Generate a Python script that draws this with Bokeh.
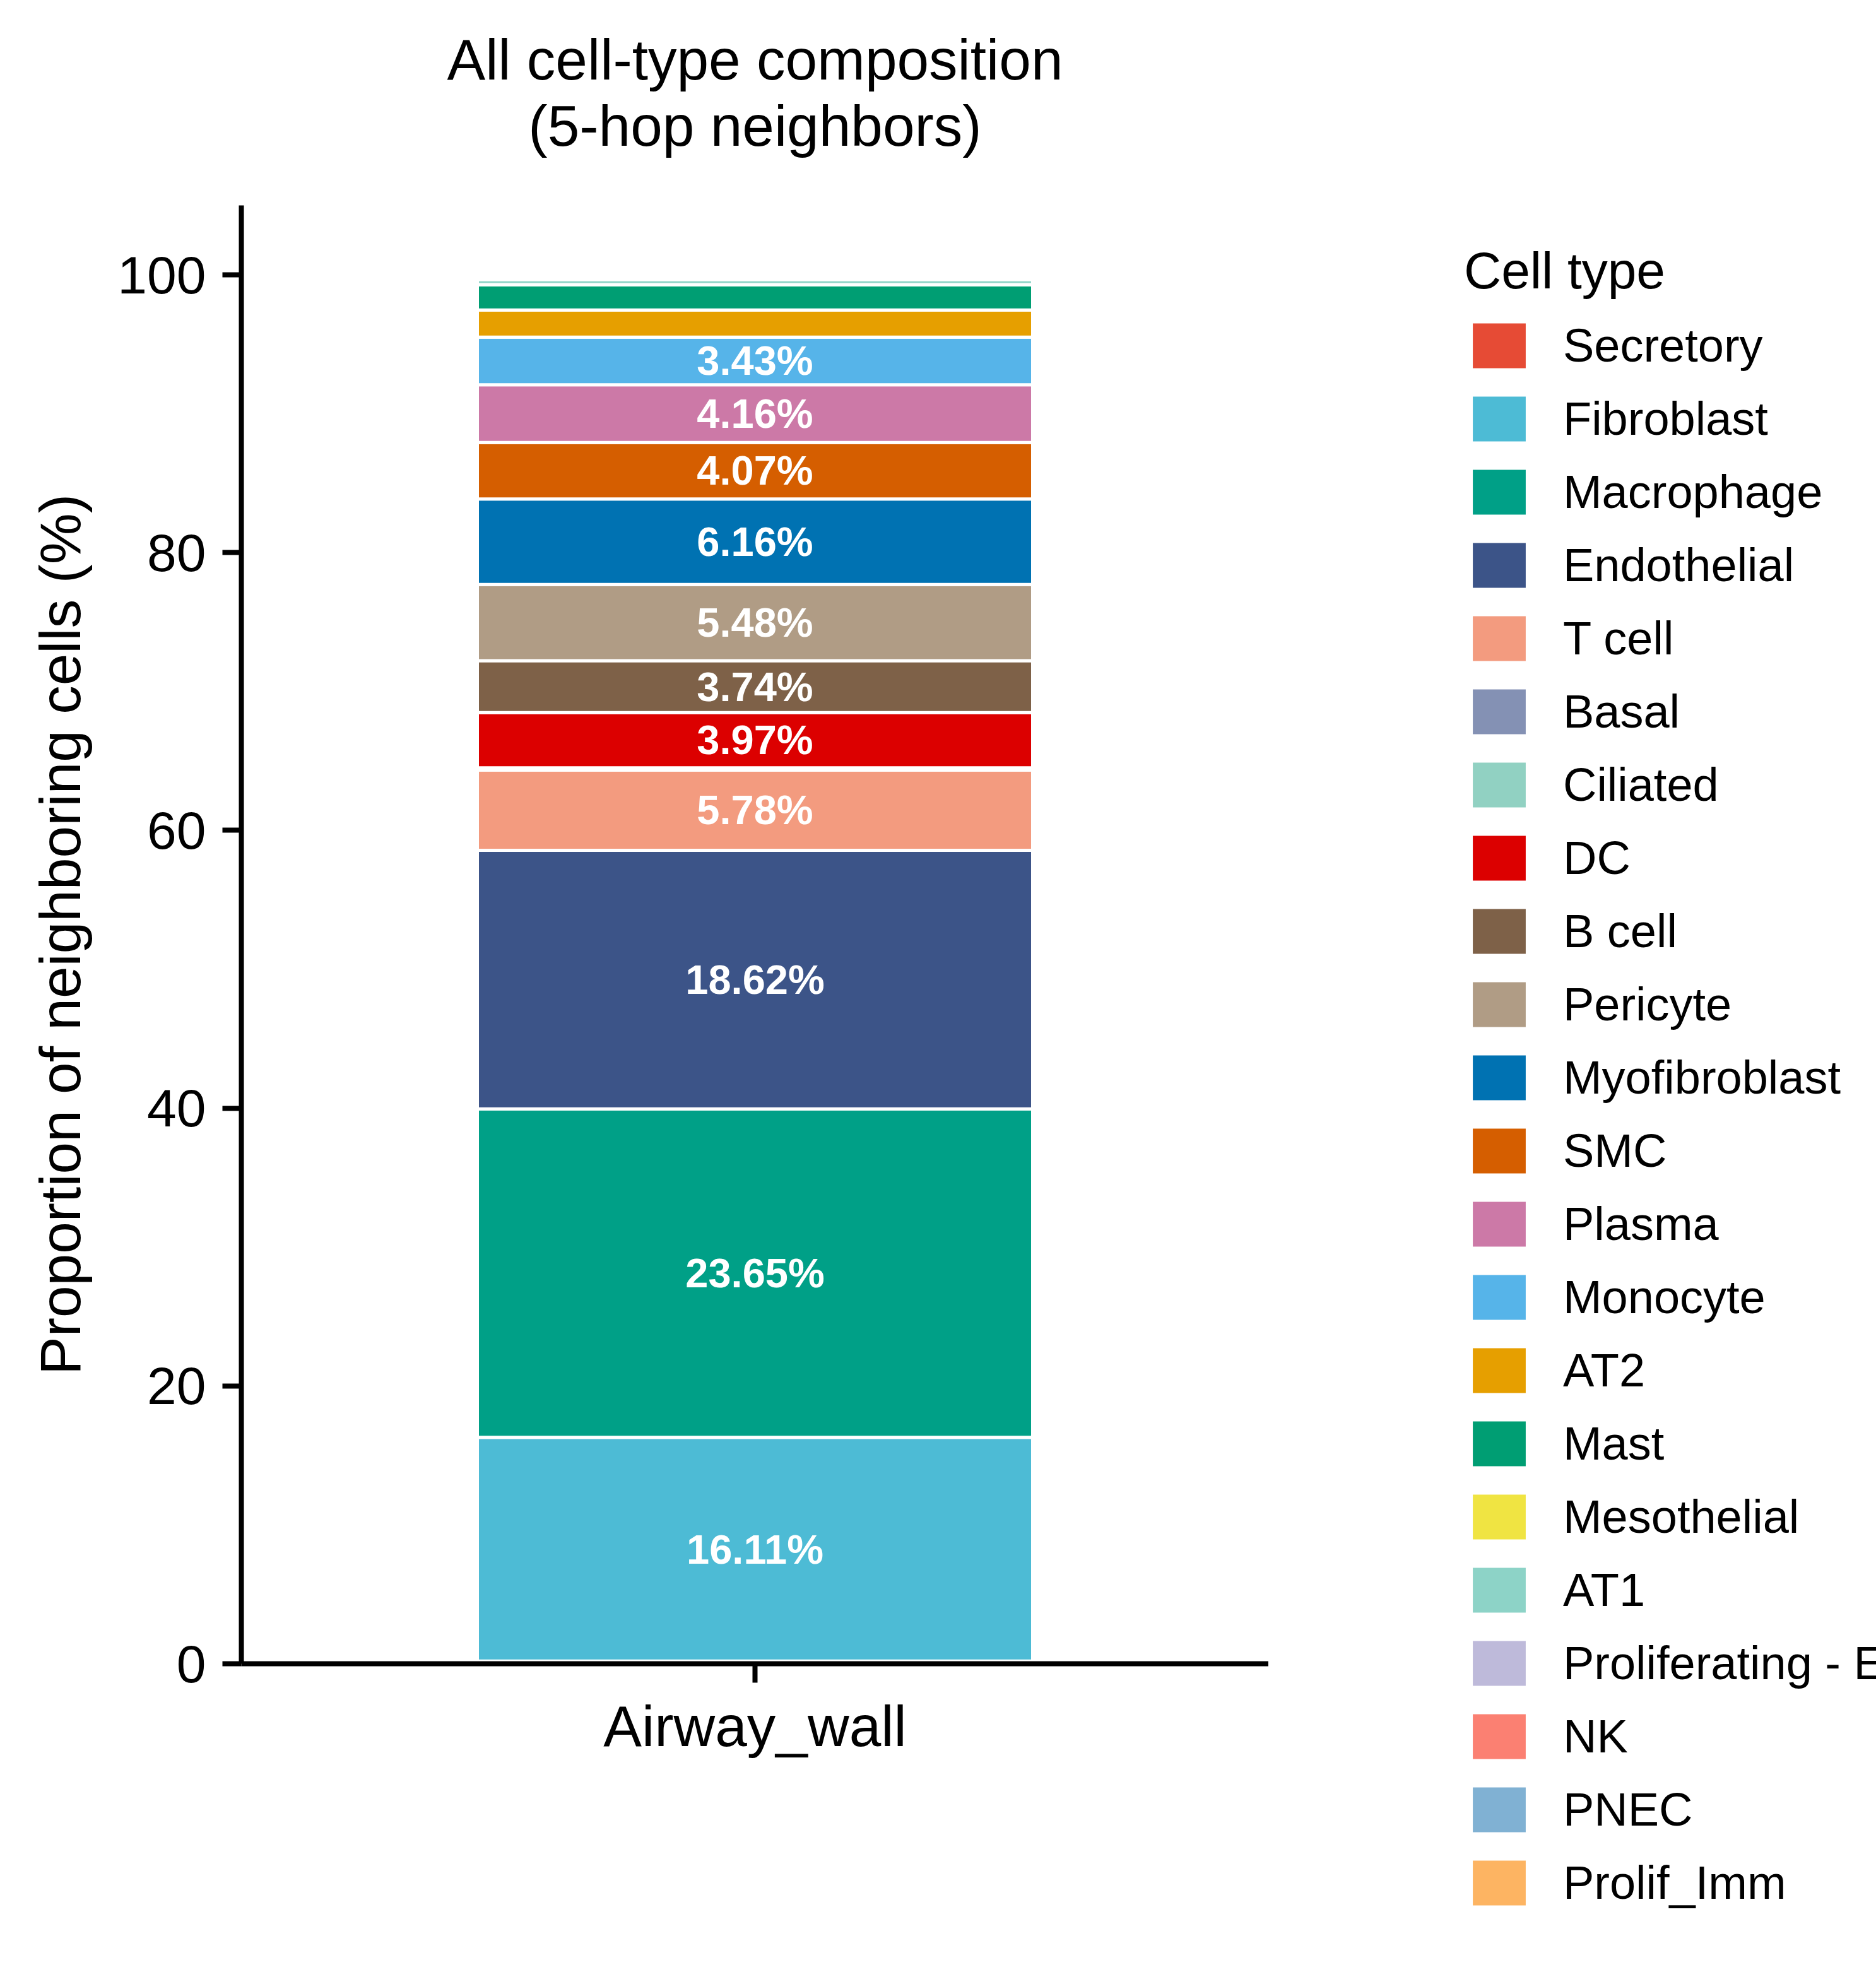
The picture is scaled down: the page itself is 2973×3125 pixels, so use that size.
from bokeh.plotting import figure
from bokeh.layouts import row
from bokeh.models import ColumnDataSource, FactorRange, Range1d, FixedTicker, Title
from bokeh.embed import file_html
from bokeh.resources import INLINE

# Region sampled and the cell types found among its 5-hop neighbours (stacking order)
conditions = ["Airway_wall"]
cell_types = [
    "Secretory", "Fibroblast", "Macrophage", "Endothelial", "T cell", "Basal",
    "Ciliated", "DC", "B cell", "Pericyte", "Myofibroblast", "SMC", "Plasma",
    "Monocyte", "AT2", "Mast", "Mesothelial", "AT1", "Proliferating - Epi",
    "NK", "PNEC", "Prolif_Imm",
]
# Percentage of neighbouring cells per type
percentages = [
    0.19, 16.11, 23.65, 18.62, 5.78, 0.09,
    0.07, 3.97, 3.74, 5.48, 6.16, 4.07, 4.16,
    3.43, 1.95, 1.82, 0.01, 0.36, 0.03,
    0.05, 0.02, 0.04,
]
colors = [
    "#E64B35", "#4DBBD5", "#00A087", "#3C5488", "#F39B7F", "#8491B4",
    "#91D1C2", "#DC0000", "#7E6148", "#B09C85", "#0072B2", "#D55E00", "#CC79A7",
    "#56B4E9", "#E69F00", "#009E73", "#F0E442", "#8DD3C7", "#BEBADA",
    "#FB8072", "#80B1D3", "#FDB462",
]
y_ticks = [0, 20, 40, 60, 80, 100]
label_threshold = 3.0
title_lines = ["All cell-type composition", "(5-hop neighbors)"]

FONT = "Liberation Sans"

data = {"condition": conditions}
for name, pct in zip(cell_types, percentages):
    data[name] = [pct]
src = ColumnDataSource(data)

# ---------------- main chart ----------------
p = figure(
    width=2010, height=3125,
    x_range=FactorRange(*conditions, range_padding=0.24, range_padding_units="absolute"),
    y_range=Range1d(0, 105),
    output_backend="svg", toolbar_location=None,
    min_border_left=382, min_border_right=0,
    min_border_top=325, min_border_bottom=489,
)
p.background_fill_color = "white"
p.border_fill_color = "white"
p.outline_line_color = None
p.grid.visible = False


def style_title(t, size="91px"):
    t.align = "center"
    t.text_font = FONT
    t.text_font_size = size
    t.text_font_style = "normal"
    t.text_color = "black"


# Title block: a thin spacer next to the frame, then the two centred lines
spacer = Title(text=" ")
style_title(spacer, "10px")
spacer.standoff = 62
p.add_layout(spacer, "above")
sub_title = Title(text=title_lines[1])
style_title(sub_title)
sub_title.standoff = 2
p.add_layout(sub_title, "above")
p.title.text = title_lines[0]
style_title(p.title)
p.title.standoff = 2

p.vbar_stack(
    cell_types, x="condition", width=0.8, source=src,
    fill_color=colors, line_color="white", line_width=5,
)

# Percent labels in the middle of each sizeable segment
lx, ly, lt = [], [], []
bottom = 0.0
for name, pct in zip(cell_types, percentages):
    if pct >= label_threshold:
        lx.append(conditions[0])
        ly.append(bottom + pct / 2)
        lt.append(f"{pct:.2f}%")
    bottom += pct
p.text(
    x=lx, y=ly, text=lt, text_align="center", text_baseline="middle",
    text_color="white", text_font_size="65px", text_font_style="bold",
    text_font={"value": FONT},
)

# Axes
for ax in (p.xaxis[0], p.yaxis[0]):
    ax.axis_line_color = "black"
    ax.axis_line_width = 8
    ax.major_tick_line_color = "black"
    ax.major_tick_line_width = 8
    ax.major_tick_out = 30
    ax.major_tick_in = 0
    ax.minor_tick_line_color = None
    ax.major_label_text_color = "black"
    ax.major_label_text_font = FONT

p.xaxis.major_label_text_font_size = "91px"
p.xaxis.major_label_standoff = 18
p.xaxis.major_label_orientation = "horizontal"

p.yaxis.ticker = FixedTicker(ticks=y_ticks)
p.yaxis.major_label_text_font_size = "84px"
p.yaxis.major_label_standoff = 26
p.yaxis.axis_label = "Proportion of neighboring cells (%)"
p.yaxis.axis_label_text_font = FONT
p.yaxis.axis_label_text_font_size = "91px"
p.yaxis.axis_label_text_font_style = "normal"
p.yaxis.axis_label_text_color = "black"
p.yaxis.axis_label_standoff = 37

# ---------------- legend panel ----------------
# A companion plot with an empty, axis-free frame; the cell-type key sits in
# its right-hand side panel. Its stacked renderers are hidden.
q = figure(
    width=963, height=3125,
    x_range=FactorRange(*conditions), y_range=Range1d(0, 105),
    output_backend="svg", toolbar_location=None,
    x_axis_location=None, y_axis_location=None,
    min_border=0,
)
q.title.visible = False
q.outline_line_color = None
q.grid.visible = False
q.background_fill_color = "white"
q.border_fill_color = "white"

key_renderers = q.vbar_stack(
    cell_types, x="condition", width=0.8, source=src,
    fill_color=colors, line_color="white", line_width=5,
    legend_label=cell_types,
)
for r in key_renderers:
    r.visible = False

leg = q.legend[0]
q.center.remove(leg)
leg.click_policy = "none"
leg.title = "Cell type"
leg.title_text_font = FONT
leg.title_text_font_size = "82px"
leg.title_text_font_style = "normal"
leg.title_text_color = "black"
leg.title_standoff = 24
leg.label_text_font = FONT
leg.label_text_font_size = "74px"
leg.label_text_color = "black"
leg.glyph_width = 111
leg.glyph_height = 95
leg.label_height = 95
leg.label_standoff = 46
leg.spacing = 21
leg.padding = 0
leg.margin = 0
leg.border_line_color = None
leg.background_fill_alpha = 0
leg.location = (0, -395)
q.add_layout(leg, "right")

layout = row(p, q)
open("out.html", "w").write(file_html(layout, INLINE))
